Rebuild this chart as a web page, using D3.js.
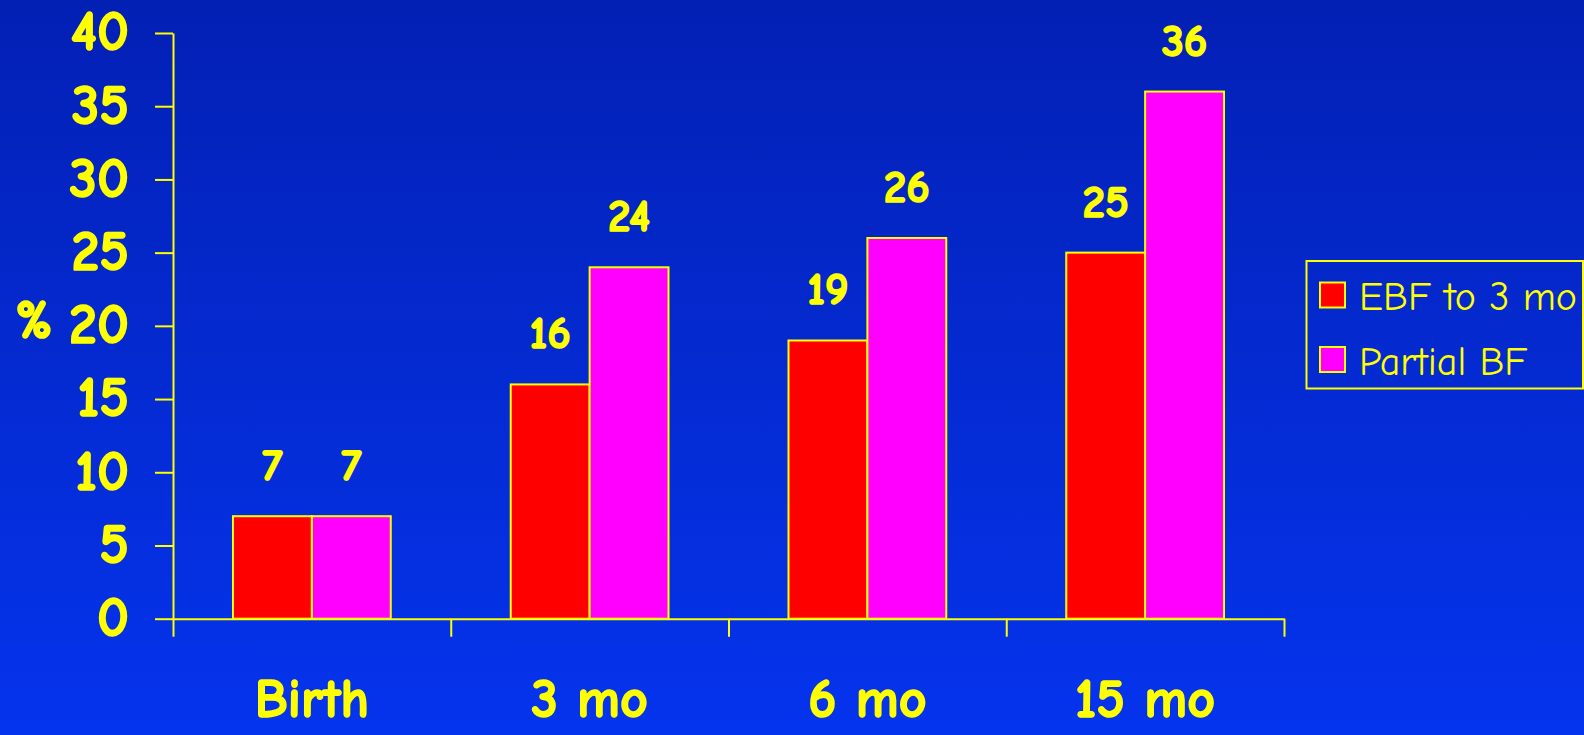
<!DOCTYPE html>
<html>
<head>
<meta charset="utf-8">
<script src="https://cdn.jsdelivr.net/npm/d3@7"></script>
<style>
  html, body { margin: 0; padding: 0; overflow: hidden; }
  svg { display: block; }
  text { font-family: "Comic Sans MS", "Comic Neue", "Open Sans", sans-serif; fill: #ffff00; }
  text.heavy { font-weight: bold; stroke: #ffff00; stroke-width: 1.6px; stroke-linejoin: round; }
</style>
</head>
<body>
<svg id="chart" width="1584" height="735"></svg>
<script>
// Breastfeeding groups by age
const categories = ["Birth", "3 mo", "6 mo", "15 mo"];
const seriesNames = ["EBF to 3 mo", "Partial BF"];
const ebfValues = [7, 16, 19, 25];
const partialValues = [7, 24, 26, 36];
const yTicks = [0, 5, 10, 15, 20, 25, 30, 35, 40];
const seriesColors = ["#ff0000", "#ff00ff"];

const svg = d3.select("#chart");
const W = 1584, H = 735;
const yellow = "#ffff00";

// Background gradient
const defs = svg.append("defs");
const grad = defs.append("linearGradient").attr("id", "bg")
  .attr("x1", 0).attr("y1", 0).attr("x2", 0).attr("y2", 1);
grad.append("stop").attr("offset", "0%").attr("stop-color", "#0320b4");
grad.append("stop").attr("offset", "100%").attr("stop-color", "#0534ee");
svg.append("rect").attr("width", W).attr("height", H).attr("fill", "url(#bg)");

const plotLeft = 173, plotRight = 1284, plotTop = 33, plotBottom = 618.7;

const y = d3.scaleLinear().domain([0, 40]).range([plotBottom, plotTop]);
const x0 = d3.scaleBand().domain(categories).range([plotLeft, plotRight]).padding(0);
const bw = x0.bandwidth();
const x1 = d3.scaleBand().domain(seriesNames).range([bw * 0.216, bw * 0.784]).padding(0);
const xEdges = d3.scaleLinear().domain([0, categories.length]).range([plotLeft, plotRight]);

const rows = categories.map((c, i) => ({
  cat: c,
  vals: [
    { s: seriesNames[0], v: ebfValues[i], color: seriesColors[0] },
    { s: seriesNames[1], v: partialValues[i], color: seriesColors[1] }
  ]
}));

// Y axis
const yAxis = svg.append("g")
  .attr("transform", `translate(${plotLeft},0)`)
  .call(d3.axisLeft(y).tickValues(yTicks).tickSize(18).tickSizeOuter(0).tickPadding(26));
yAxis.select(".domain").attr("stroke", yellow).attr("stroke-width", 2);
yAxis.selectAll(".tick line").attr("stroke", yellow).attr("stroke-width", 2);
yAxis.selectAll(".tick text")
  .attr("class", "heavy")
  .attr("fill", yellow)
  .attr("dy", "0.3em")
  .style("font-size", "56px")
  .style("font-family", "'Comic Sans MS', 'Comic Neue', 'Open Sans', sans-serif");

// Bars
const groups = svg.append("g").selectAll("g").data(rows).join("g")
  .attr("transform", d => `translate(${x0(d.cat)},0)`);

groups.selectAll("rect").data(d => d.vals).join("rect")
  .attr("x", d => x1(d.s))
  .attr("y", d => y(d.v))
  .attr("width", x1.bandwidth())
  .attr("height", d => y(0) - y(d.v))
  .attr("fill", d => d.color)
  .attr("stroke", yellow)
  .attr("stroke-width", 2);

groups.selectAll("text").data(d => d.vals).join("text")
  .attr("class", "heavy")
  .attr("x", d => x1(d.s) + x1.bandwidth() / 2)
  .attr("y", d => y(d.v) - 36)
  .attr("text-anchor", "middle")
  .style("font-size", "45px")
  .text(d => d.v);

// X axis with ticks at category boundaries
const xAxis = svg.append("g")
  .attr("transform", `translate(0,${plotBottom})`)
  .call(d3.axisBottom(xEdges).ticks(categories.length).tickSize(18).tickSizeOuter(0).tickFormat(""));
xAxis.select(".domain").attr("stroke", yellow).attr("stroke-width", 2);
xAxis.selectAll(".tick line").attr("stroke", yellow).attr("stroke-width", 2);

// Category labels
svg.append("g").selectAll("text").data(categories).join("text")
  .attr("class", "heavy")
  .attr("x", d => x0(d) + bw / 2)
  .attr("y", 717)
  .attr("text-anchor", "middle")
  .style("font-size", "54px")
  .text(d => d);

// Axis title
svg.append("text")
  .attr("class", "heavy")
  .attr("x", 34).attr("y", 338)
  .attr("text-anchor", "middle")
  .style("font-size", "54px")
  .text("%");

// Legend
const legend = svg.append("g");
legend.append("rect")
  .attr("x", 1306.5).attr("y", 261)
  .attr("width", 276.5).attr("height", 127.5)
  .attr("fill", "none").attr("stroke", yellow).attr("stroke-width", 2);
const items = legend.selectAll("g").data(seriesNames).join("g")
  .attr("transform", (d, i) => `translate(1320,${282.5 + i * 64.5})`);
items.append("rect")
  .attr("width", 25).attr("height", 25)
  .attr("fill", (d, i) => seriesColors[i])
  .attr("stroke", yellow).attr("stroke-width", 2);
items.append("text")
  .attr("x", 39).attr("y", 27.5)
  .style("font-size", "40px")
  .text(d => d);
</script>
</body>
</html>
